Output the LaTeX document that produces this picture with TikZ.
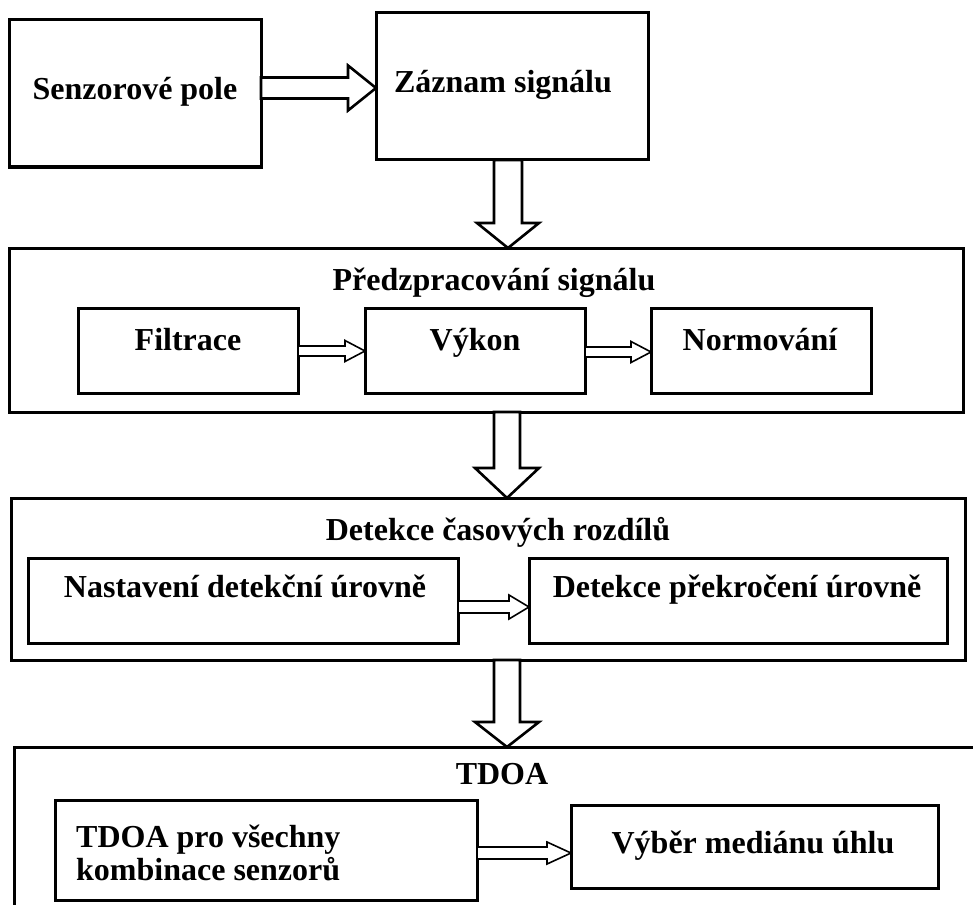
\documentclass[tikz,border=0pt]{standalone}
\usepackage{fontspec}
\setmainfont{Liberation Serif}
\usetikzlibrary{calc,fit}
\newcommand\HArrow[6][arr]{%
\draw[#1] let \p1=(#2), \p2=(#3) in (\x1,\y1+#4) -- (\x2-#6,\y1+#4) -- (\x2-#6,\y1+#5) -- (\x2,\y1) -- (\x2-#6,\y1-#5) -- (\x2-#6,\y1-#4) -- (\x1,\y1-#4) -- cycle;}
\newcommand\VArrow[6][arr]{%
\draw[#1] let \p1=(#2), \p2=(#3) in (\x1-#4,\y1) -- (\x1-#4,\y2+#6) -- (\x1-#5,\y2+#6) -- (\x1,\y2) -- (\x1+#5,\y2+#6) -- (\x1+#4,\y2+#6) -- (\x1+#4,\y1) -- cycle;}
\begin{document}
\begin{tikzpicture}[x=1pt,y=-1pt,
  box/.style={draw, line width=3pt, inner sep=0pt, outer sep=0pt},
  lbl/.style={font=\fontsize{32}{38}\selectfont\bfseries, inner sep=0pt},
  arr/.style={draw, fill=white, line width=2.6pt, miter limit=10},
  sarr/.style={draw, fill=white, line width=1.6pt, miter limit=10}]
\useasboundingbox (0,0) rectangle (973,904);
\clip (0,0) rectangle (973,904);
% boxes
\node[box, fit={(9,20) (261,167)}] (senz) {};
\node[box, fit={(376,13) (648,160)}] (zaz) {};
\node[box, fit={(9,248) (963,412)}] (pre) {};
\node[box, fit={(78,308) (298,393)}] (fil) {};
\node[box, fit={(365,308) (585,393)}] (vyk) {};
\node[box, fit={(651,308) (871,393)}] (nor) {};
\node[box, fit={(11,498) (965,660)}] (det) {};
\node[box, fit={(28,558) (458,643)}] (nas) {};
\node[box, fit={(529,558) (947,643)}] (dpu) {};
\node[box, fit={(14,747) (1000,950)}] (tdoa) {};
\node[box, fit={(55,800) (477,900)}] (tpv) {};
\node[box, fit={(571,805) (938,888)}] (vmu) {};
% labels
\node[lbl, anchor=base] (tsenz) at (135,100) {Senzorové pole};
\node[lbl, anchor=base] (tzaz) at (503,93) {Záznam signálu};
\node[lbl, anchor=base] (tpre) at (494,290) {Předzpracování signálu};
\node[lbl, anchor=base] (tfil) at (188,350) {Filtrace};
\node[lbl, anchor=base] (tvyk) at (475,350) {Výkon};
\node[lbl, anchor=base] (tnor) at (760,350) {Normování};
\node[lbl, anchor=base] (tdet) at (498,540) {Detekce časových rozdílů};
\node[lbl, anchor=base] (tnas) at (245,597) {Nastavení detekční úrovně};
\node[lbl, anchor=base] (tdpu) at (737,597) {Detekce překročení úrovně};
\node[lbl, anchor=base] (ttdoa) at (502,784) {TDOA};
\node[lbl, anchor=base west] (ttpv1) at (76,847) {TDOA pro všechny};
\node[lbl, anchor=base west] (ttpv2) at (76,880) {kombinace senzorů};
\node[lbl, anchor=base] (tvmu) at (753,853) {Výběr mediánu úhlu};
% arrow axes
\coordinate (ay1) at (0,88);
\coordinate (ax1) at (508,0);
\coordinate (ax2) at (507,0);
\coordinate (ay2) at (0,351);
\coordinate (ay3) at (0,352);
\coordinate (ay4) at (0,607);
\coordinate (ay5) at (0,853);
% big arrows
\HArrow{senz.east |- ay1}{zaz.west |- ay1}{10.5pt}{22.5pt}{28pt}
\VArrow{zaz.south -| ax1}{pre.north -| ax1}{14pt}{31pt}{25pt}
\VArrow{pre.south -| ax2}{det.north -| ax2}{13pt}{32pt}{30pt}
\VArrow{det.south -| ax2}{tdoa.north -| ax2}{13pt}{32pt}{25pt}
% small arrows
\HArrow[sarr]{fil.east |- ay2}{vyk.west |- ay2}{5pt}{10.5pt}{20pt}
\HArrow[sarr]{vyk.east |- ay3}{nor.west |- ay3}{5pt}{10.5pt}{20pt}
\HArrow[sarr]{nas.east |- ay4}{dpu.west |- ay4}{6pt}{12pt}{20pt}
\HArrow[sarr]{tpv.east |- ay5}{vmu.west |- ay5}{6pt}{11pt}{24pt}
\end{tikzpicture}
\end{document}
